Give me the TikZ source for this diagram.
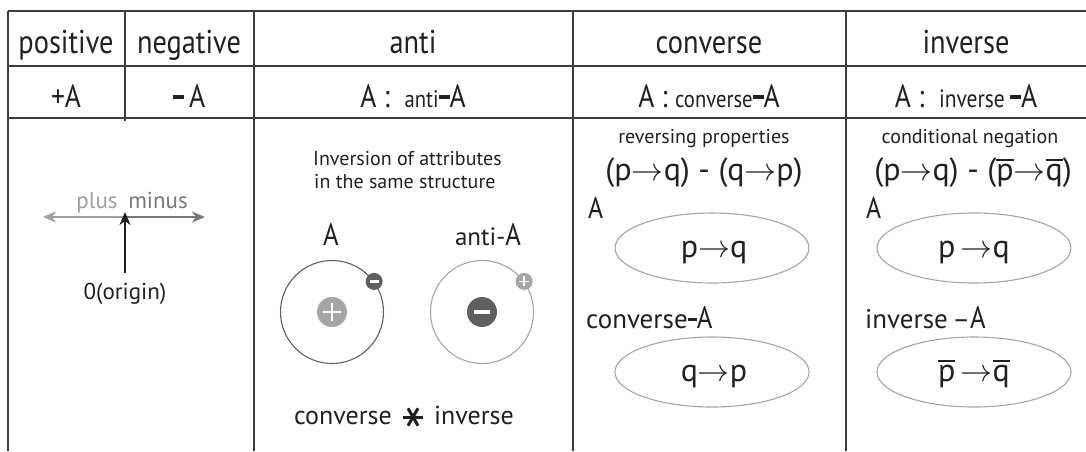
\RequirePackage{fix-cm}
\documentclass[tikz,border=0pt]{standalone}
\usepackage{fontspec}
\setmainfont{PT Sans}
\newfontfamily\headfont{PT Sans}[FakeStretch=0.86]
\usetikzlibrary{arrows.meta,positioning,shapes.geometric,calc}
\definecolor{ink}{RGB}{35,31,32}
\definecolor{rulegrey}{RGB}{60,60,60}
\definecolor{plusgrey}{RGB}{160,160,160}
\definecolor{minusgrey}{RGB}{120,120,120}
\definecolor{darkball}{RGB}{95,95,95}
\definecolor{lightball}{RGB}{165,165,165}
\definecolor{ovalgrey}{RGB}{165,165,165}
\newcommand{\fs}[1]{\fontsize{#1}{#1}\selectfont}
\newcommand{\nbar}[1]{\vbox{\hrule height 1.7pt\kern 2.8pt\hbox{#1}}}
\newcommand{\ra}{$\rightarrow$}
\newcommand{\bigA}[1]{{\headfont\fs{#1}A}}
\newcommand{\bdash}{\rule[0.26em]{0.34em}{0.11em}}

\begin{document}
\begin{tikzpicture}[x=1pt,y=-1pt,every node/.style={inner sep=0pt,text=ink,anchor=base},
  grid/.style={draw=rulegrey,line width=1.7pt},
  head/.style={font=\headfont\fs{33}},
  cell/.style={font=\headfont\fs{32}},
  note/.style={font=\fs{20}},
  formula/.style={font=\fs{32}},
  oval/.style={ellipse,draw=ovalgrey,line width=1.1pt,minimum width=194pt,minimum height=70pt,anchor=center},
  orbit/.style={circle,draw=#1,line width=1.1pt,minimum size=103pt,anchor=center},
  nucleus/.style={circle,fill=#1,minimum size=30pt,anchor=center},
  electron/.style={circle,fill=#1,minimum size=17pt,anchor=center},
  sign/.style={white,line width=#1},
  tip/.style={-{Stealth[length=13pt,width=11pt,inset=4pt]}}]
  \useasboundingbox (0,0) rectangle (1086,451);

  % table
  \foreach \y in {11,66,118} \draw[grid] (8,\y) -- (1086,\y);
  \foreach \x in {8,254,573,846} \draw[grid] (\x,11) -- (\x,451);
  \draw[grid] (125,11) -- (125,121);

  \foreach \x/\t [count=\i] in {66/positive,189/negative,413/anti,709/converse,966/inverse}
    \node[head] (h\i) at (\x,53) {\t};
  \node[cell] (pos) at (66,107) {+A};
  \node[cell] (neg) at (189,107) {\bdash\,A};
  \node[cell] (anti) at (413,107) {A :\ \ {\fs{24}anti}\bdash A};
  \node[cell] (conv) at (709,107) {A : {\fs{24}converse}\bdash A};
  \node[cell] (inv) at (966,107) {A :\ \ {\fs{25}inverse}\,\bdash A};

  % plus / minus
  \node[note,font=\fs{23},text=plusgrey] (plus) at (97,208) {plus};
  \node[note,font=\fs{23},text=minusgrey] (minus) at (158,208) {minus};
  \coordinate (zero) at (125,217);
  \coordinate (pl) at (43,217);
  \coordinate (mi) at (205,217);
  \draw[tip,plusgrey,line width=1.6pt] (zero) -- (pl);
  \draw[tip,minusgrey,line width=1.6pt] (zero) -- (mi);
  \node[note,font=\fs{23}] (orig) at (125,299) {0(origin)};
  \draw[tip,ink,line width=1.6pt] (125,273) -- ([yshift=5pt]zero);

  % anti
  \node[note,anchor=base west] (inv1) at (313,165) {Inversion of attributes};
  \node[note,anchor=base west] (inv2) at (314,188) {in the same structure};
  \node[cell,font=\headfont\fs{31}] (labA) at (331,245) {A};
  \node[note,font=\fs{25}] (labanti) at (488,245) {anti-\bigA{31}};
  \node[orbit=darkball] (atomA) at (332,312) {};
  \node[nucleus=lightball] (nucA) at (332,312) {};
  \node[electron=darkball] (elA) at (atomA.36) {};
  \node[orbit=lightball] (atomB) at (482,312) {};
  \node[nucleus=darkball] (nucB) at (482,312) {};
  \node[electron=lightball] (elB) at (atomB.36) {};
  \draw[sign=2.6pt] ([xshift=-9pt]nucA.center) -- ([xshift=9pt]nucA.center);
  \draw[sign=2.6pt] ([yshift=-9pt]nucA.center) -- ([yshift=9pt]nucA.center);
  \draw[sign=4pt] ([xshift=-8pt]nucB.center) -- ([xshift=8pt]nucB.center);
  \draw[sign=2.2pt] ([xshift=-4.5pt]elA.center) -- ([xshift=4.5pt]elA.center);
  \draw[sign=1.6pt] ([xshift=-5pt]elB.center) -- ([xshift=5pt]elB.center);
  \draw[sign=1.6pt] ([yshift=-5pt]elB.center) -- ([yshift=5pt]elB.center);
  \node[note,font=\fs{26},anchor=base east] (cv) at (392,424) {converse};
  \node[note,font=\fs{26},anchor=base west] (iv) at (434,424) {inverse};
  \coordinate (star) at (413,417);
  \foreach \a in {0,60,120}
    \draw[ink,line width=3pt] (star) ++(\a:10) -- ++(\a+180:20);

  % converse
  \node[note] (rev) at (704,143) {reversing properties};
  \node[formula] (fc) at (704,180) {(p\ra q) - (q\ra p)};
  \node[cell,font=\headfont\fs{30},anchor=base west] (cA) at (588,218) {A};
  \node[oval] (c1) at (712,248) {};
  \node[formula] (c1t) at (714,257) {p\ra q};
  \node[note,font=\fs{27},anchor=base west] (cB) at (586,328) {converse\bdash\bigA{31}};
  \node[oval] (c2) at (712,372) {};
  \node[formula] (c2t) at (714,381) {q\ra p};

  % inverse
  \node[note] (cond) at (970,143) {conditional negation};
  \node[formula] (fi) at (973,180) {(p\ra q) - (\nbar{p}\ra \nbar{q})};
  \node[cell,font=\headfont\fs{30},anchor=base west] (iA) at (866,218) {A};
  \node[oval] (i1) at (974,248) {};
  \node[formula] (i1t) at (974,257) {p\,\ra q};
  \node[note,font=\fs{27},anchor=base west] (iB) at (865,328) {inverse\,–\bigA{31}};
  \node[oval] (i2) at (974,372) {};
  \node[formula] (i2t) at (974,381) {\nbar{p}\,\ra \nbar{q}};
\end{tikzpicture}
\end{document}
